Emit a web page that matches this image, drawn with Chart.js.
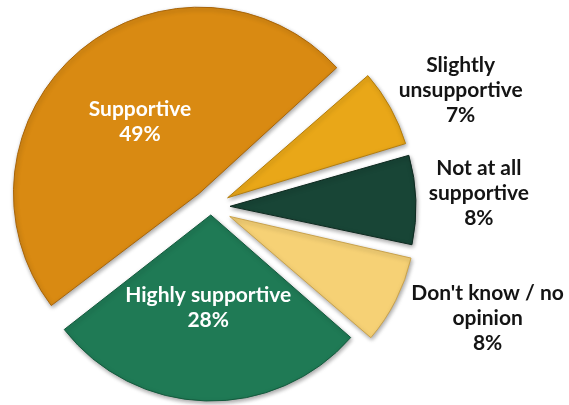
<!DOCTYPE html>
<html>
<head>
<meta charset="utf-8">
<script src="https://cdn.jsdelivr.net/npm/chart.js@4/dist/chart.umd.min.js"></script>
<style>
  html, body { margin: 0; padding: 0; background: #ffffff; }
  #wrap { width: 569px; height: 405px; position: relative; }
</style>
</head>
<body>
<div id="wrap"><canvas id="pie"></canvas></div>
<script>
// Survey answers, clockwise from the lower-left edge of the "Supportive" slice
const categories = ['Supportive', 'Slightly unsupportive', 'Not at all supportive', "Don't know / no opinion", 'Highly supportive'];
const shares = [49, 7, 8, 8, 28];
const labelLines = [['Supportive'], ['Slightly', 'unsupportive'], ['Not at all', 'supportive'], ["Don't know / no", 'opinion'], ['Highly supportive']];

// Styling
const sliceColors = ['#D98A12', '#E9A718', '#184536', '#F6D175', '#1F7A55'];
const edgeColors  = ['#A8650A', '#B37D0E', '#0E2A20', '#C9A24C', '#145A3D'];
const explode = [72, 76, 76, 84, 32];          // Chart.js arc offset (moves the slice offset/4 px)
const PIE_RADIUS = 186;
// label anchor: distance (in radii) from the slice tip, angular nudge in degrees
const labelPlacement = [
  { r: 0.50, shift: 0,    inside: true },
  { r: 1.38, shift: 4.2,  inside: false },
  { r: 1.34, shift: -1,   inside: false },
  { r: 1.49, shift: -5.3, inside: false },
  { r: 0.50, shift: 0,    inside: true }
];
const FONT = 'bold 21px Lato, "Open Sans", sans-serif';
const LINE_H = 25;

// Keep every exploded slice at the same visible radius
const evenSlices = {
  id: 'evenSlices',
  beforeDatasetDraw(chart, args) {
    args.meta.data.forEach(arc => {
      const t = (arc.options.offset || 0) / 4;
      const fix = 1 - Math.sin(Math.min(Math.PI, arc.circumference));
      arc.outerRadius = PIE_RADIUS - t * fix;
    });
    const ctx = chart.ctx;
    ctx.save();
    ctx.shadowColor = 'rgba(0,0,0,0.35)';
    ctx.shadowBlur = 4;
    ctx.shadowOffsetX = 1;
    ctx.shadowOffsetY = 2;
  },
  afterDatasetDraw(chart) {
    chart.ctx.restore();
  }
};

// Category name and share, inside the two big slices and beside the small ones
const sliceLabels = {
  id: 'sliceLabels',
  afterDatasetsDraw(chart) {
    const ctx = chart.ctx;
    const meta = chart.getDatasetMeta(0);
    ctx.save();
    ctx.font = FONT;
    ctx.textAlign = 'center';
    ctx.textBaseline = 'middle';
    meta.data.forEach((arc, i) => {
      const p = labelPlacement[i];
      const mid = (arc.startAngle + arc.endAngle) / 2;
      const t = (arc.options.offset || 0) / 4;
      const tipX = arc.x + Math.cos(mid) * t;
      const tipY = arc.y + Math.sin(mid) * t;
      const a = mid + p.shift * Math.PI / 180;
      const cx = tipX + Math.cos(a) * PIE_RADIUS * p.r;
      const cy = tipY + Math.sin(a) * PIE_RADIUS * p.r;
      const lines = labelLines[i].concat([shares[i] + '%']);
      const y0 = cy - (lines.length - 1) * LINE_H / 2;
      ctx.fillStyle = p.inside ? '#ffffff' : '#141414';
      lines.forEach((s, k) => ctx.fillText(s, cx, y0 + k * LINE_H));
    });
    ctx.restore();
  }
};

new Chart(document.getElementById('pie'), {
  type: 'pie',
  data: {
    labels: categories,
    datasets: [{
      data: shares,
      backgroundColor: sliceColors,
      borderColor: edgeColors,
      borderWidth: 1,
      offset: explode
    }]
  },
  options: {
    responsive: true,
    maintainAspectRatio: false,
    animation: false,
    rotation: 232,
    radius: PIE_RADIUS,
    layout: { padding: { left: 0, right: 147, top: 9, bottom: 0 } },
    plugins: {
      legend: { display: false },
      tooltip: { enabled: false }
    }
  },
  plugins: [evenSlices, sliceLabels]
});
</script>
</body>
</html>
